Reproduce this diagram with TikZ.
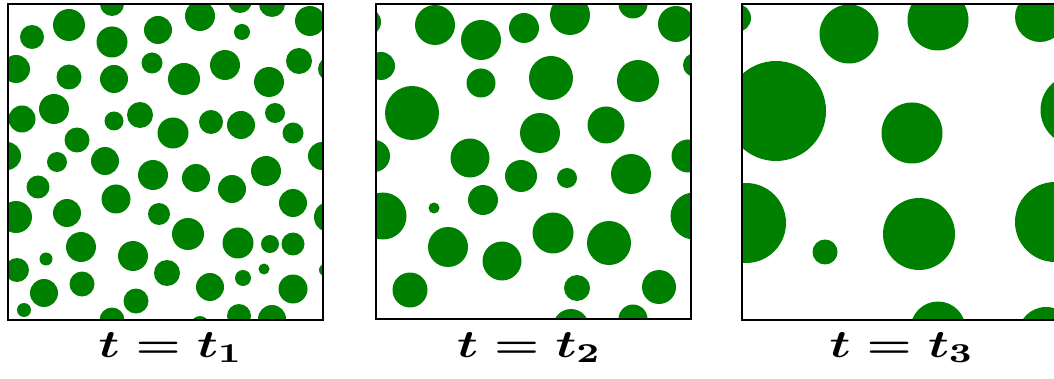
\documentclass[tikz,border=0pt]{standalone}
\usepackage{amsmath}
\usepackage{amssymb}
\usepackage{tikz}
\usetikzlibrary{positioning,calc}
\definecolor{graingreen}{HTML}{008000}
\newcommand{\timelab}[1]{\scalebox{5.05}[3.9]{$t=t_{#1}$}}

\begin{document}
\begin{tikzpicture}[
                x=1pt, y=-1pt,
                grain/.style={fill=graingreen},
                frame/.style={draw=black, line width=2pt},
                lab/.style={anchor=base, inner sep=0pt, font=\boldmath}
            ]

                \useasboundingbox (0,0) rectangle (1054,379);

% panel 1
                \begin{scope}
                \clip (8,4) rectangle (323,320);
                \fill[grain] (112,4) circle (12) (69,25) circle (16) (32,37) circle (12)
                    (112,42) circle (15.5) (158,30) circle (14) (200,16) circle (15)
                    (240,1) circle (12) (272,4) circle (13) (242,32) circle (8)
                    (310,21) circle (15) (16,69) circle (14) (69,77) circle (12.5)
                    (114,79) circle (14) (152,63) circle (10.5) (184,79) circle (16)
                    (225,65) circle (15) (269,82) circle (15) (299,61) circle (13)
                    (330,69) circle (12) (54,109) circle (15) (22,119) circle (13.5)
                    (114,121) circle (9.5) (140,115) circle (13) (173,133) circle (15.5)
                    (211,122) circle (12) (241,125) circle (14) (275,113) circle (10)
                    (293,133) circle (10.5) (77,140) circle (12.5) (7,156) circle (14)
                    (57,162) circle (10) (105,161) circle (14) (153,175) circle (15)
                    (196,178) circle (14) (266,171) circle (15) (322,156) circle (14)
                    (38,187) circle (11.5) (232,189) circle (14) (116,199) circle (14.5)
                    (67,213) circle (14) (16,217) circle (16) (293,203) circle (14)
                    (329,217) circle (15) (159,214) circle (11) (188,234) circle (16)
                    (81,247) circle (15) (238,243) circle (15.5) (270,244) circle (9)
                    (293,244) circle (11.5) (133,256) circle (15) (46,259) circle (6.5)
                    (17,270) circle (12) (167,273) circle (13) (264,269) circle (5.5)
                    (325,270) circle (6) (243,278) circle (8) (82,284) circle (12.5)
                    (210,287) circle (14) (293,289) circle (14.5) (44,293) circle (14)
                    (136,301) circle (12.5) (24,310) circle (7) (112,320) circle (12.5)
                    (200,325) circle (9) (239,316) circle (12) (272,319) circle (14);
                \end{scope}
                \draw[frame] (8,4) rectangle (323,320);

% panel 2
                \begin{scope}
                \clip (376,4) rectangle (691,319);
                \fill[grain] (367,22) circle (14) (435,25) circle (20) (481,40) circle (20)
                    (524,28) circle (15) (570,15) circle (20) (633,4) circle (14.5)
                    (676,24) circle (18) (381,66) circle (14) (481,83) circle (14.5)
                    (551,78) circle (22) (638,81) circle (21) (695,65) circle (12)
                    (412,113) circle (27) (540,133) circle (20) (606,125) circle (18.5)
                    (374,156) circle (16) (470,158) circle (19.5) (521,176) circle (16)
                    (631,174) circle (20) (688,156) circle (16.5) (567,178) circle (10)
                    (383,216) circle (23.5) (483,200) circle (15) (434,208) circle (5.5)
                    (694,216) circle (23.5) (553,233) circle (20.5) (609,243) circle (22)
                    (448,247) circle (20) (502,261) circle (19.5) (410,290) circle (17.5)
                    (577,288) circle (13) (659,287) circle (17) (571,327) circle (18)
                    (633,319) circle (14.5);
                \end{scope}
                \draw[frame] (376,4) rectangle (691,319);

% panel 3
                \begin{scope}
                \clip (742,4) rectangle (1057,320);
                \fill[grain] (737,18) circle (14) (849,34) circle (29.5) (938,20) circle (30.5)
                    (1040,17) circle (25) (776,111) circle (50) (912,133) circle (30.5)
                    (1076,110) circle (35.5) (746,223) circle (40) (825,252) circle (12.5)
                    (919,234) circle (36) (1055,222) circle (40) (938,329) circle (27.5)
                    (1046,335) circle (28) (735,327) circle (10);
                \end{scope}
                \draw[frame] (742,4) rectangle (1057,320);

% labels
                \node[lab] (l1) at (171,357) {\timelab{1}};
                \node[lab] (l2) at (529.5,357) {\timelab{2}};
                \node[lab] (l3) at (902,357) {\timelab{3}};

            \end{tikzpicture}
\end{document}
